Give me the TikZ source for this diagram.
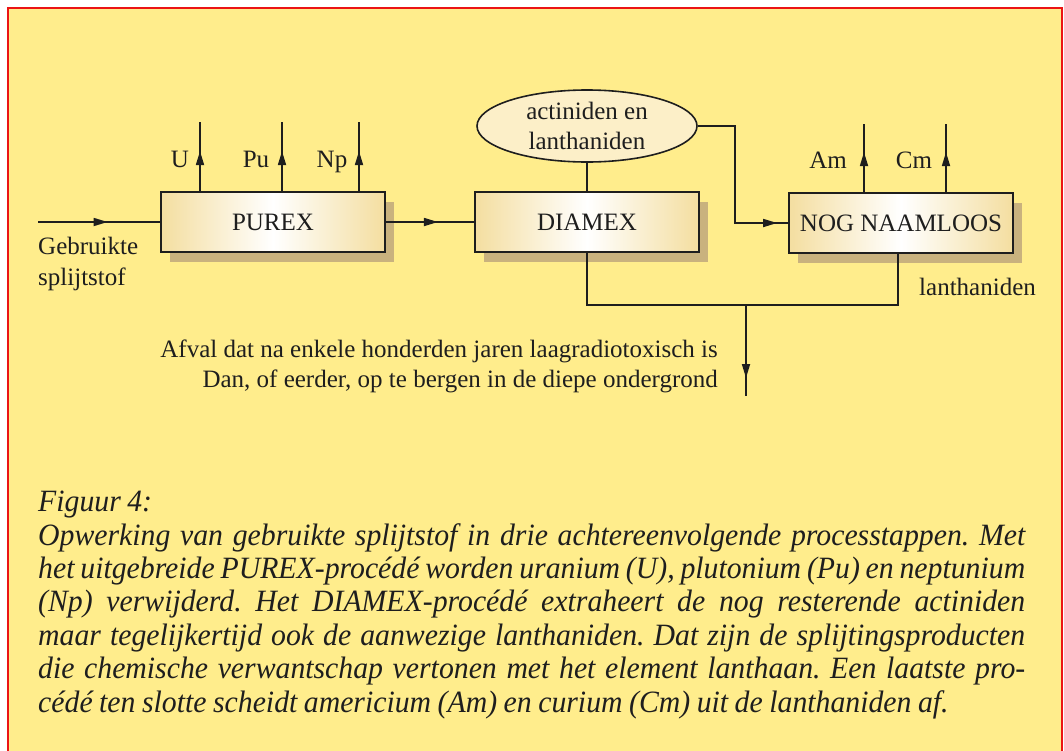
\documentclass[tikz,border=0pt]{standalone}
\usepackage{fontspec}
\setmainfont{Liberation Serif}
\newfontfamily\capfont[FakeStretch=0.96]{Liberation Serif}
\usetikzlibrary{arrows.meta,decorations.markings,shapes.geometric,shadows}
\definecolor{bgyellow}{RGB}{255,237,140}
\definecolor{boxtan}{RGB}{244,222,160}
\definecolor{shadowtan}{RGB}{201,178,126}
\definecolor{ellfill}{RGB}{252,239,200}
\definecolor{framered}{RGB}{235,20,20}
\definecolor{linecol}{RGB}{30,30,30}
\begin{document}
\begin{tikzpicture}[x=1pt,y=-1pt,
  proc/.style={draw=linecol, line width=1.8pt, left color=boxtan, right color=boxtan, middle color=white,
    minimum width=224pt, minimum height=60pt, inner sep=0pt, font=\fontsize{25}{30}\selectfont, text=linecol,
    drop shadow={shadow xshift=9pt, shadow yshift=-10pt, fill=shadowtan, opacity=1}},
  conn/.style={draw=linecol, line width=1.7pt},
  arr/.style={postaction={decorate, decoration={markings, mark=at position #1 with {\arrow{Triangle[length=14pt,width=8pt]}}}}},
  lbl/.style={font=\fontsize{25}{30}\selectfont, text=linecol, inner sep=0pt}
]
\useasboundingbox (0,0) rectangle (1064,750);
\clip (0,0) rectangle (1064,750);
\fill[white] (0,0) rectangle (1064,750);
\draw[framered, line width=2.2pt, fill=bgyellow] (8,8) rectangle (1062,770);

% process boxes
\node[proc] (purex) at (273,222) {PUREX};
\node[proc] (diamex) at (587,222) {DIAMEX};
\node[proc] (nog) at (901,223) {NOG NAAMLOOS};
\node[ellipse, draw=linecol, line width=1.6pt, fill=ellfill, minimum width=220pt, minimum height=72pt,
  inner sep=0pt, align=center, font=\fontsize{25}{30}\selectfont, text=linecol] (ell) at (587,126) {actiniden en\\lanthaniden};

% coordinates
\coordinate (in) at (38,222);
\coordinate (U) at (200,122);
\coordinate (Pu) at (282,122);
\coordinate (Np) at (359,122);
\coordinate (Am) at (864,124);
\coordinate (Cm) at (946,124);
\coordinate (bend) at (735,126);
\coordinate (j) at (746,305);
\coordinate (waste) at (746,396);

% connectors
\draw[conn, arr=0.57] (in) -- (purex.west);
\draw[conn, arr=0.59] (purex.east) -- (diamex.west);
\draw[conn, arr=40pt] (purex.north -| U) -- (U);
\draw[conn, arr=40pt] (purex.north -| Pu) -- (Pu);
\draw[conn, arr=40pt] (purex.north -| Np) -- (Np);
\draw[conn, arr=40pt] (nog.north -| Am) -- (Am);
\draw[conn, arr=40pt] (nog.north -| Cm) -- (Cm);
\draw[conn] (ell.south) -- (diamex.north);
\draw[conn, arr=-11pt] (ell.east) -- (bend) |- (nog.west);
\draw[conn] (diamex.south) |- (j) -| ([xshift=-3pt]nog.south);
\draw[conn, arr=73pt] (j) -- (waste);

% labels
\node[lbl, anchor=base] (lU) at (180,167) {U};
\node[lbl, anchor=base] (lPu) at (256,167) {Pu};
\node[lbl, anchor=base] (lNp) at (332,167) {Np};
\node[lbl, anchor=base] (lAm) at (828,168) {Am};
\node[lbl, anchor=base] (lCm) at (914,168) {Cm};
\node[lbl, anchor=base west] (lLan) at (919,295) {lanthaniden};
\node[lbl, anchor=base west] (lGeb) at (38,254) {Gebruikte};
\node[lbl, anchor=base west] (lSpl) at (38,285) {splijtstof};
\node[lbl, anchor=base east] (afv1) at (718,357) {Afval dat na enkele honderden jaren laagradiotoxisch is};
\node[lbl, anchor=base east] (afv2) at (718,387) {Dan, of eerder, op te bergen in de diepe ondergrond};

% caption
\node[anchor=north west, text width=987pt, align=justify, inner sep=0pt, text=linecol,
  font=\capfont\fontsize{31}{33.4}\selectfont\itshape] (cap) at (38,491)
{\frenchspacing\spaceskip=0.21em plus 0.3em minus 0.09em\tolerance=10000\hyphenpenalty=10000\emergencystretch=20pt
Figuur 4:\\
Opwerking van gebruikte splijtstof in drie achtereenvolgende processtappen. Met\linebreak
het uitgebreide PUREX-procédé worden uranium (U), plutonium (Pu) en neptunium\linebreak
(Np) verwijderd. Het DIAMEX-procédé extraheert de nog resterende actiniden\linebreak
maar tegelijkertijd ook de aanwezige lanthaniden. Dat zijn de splijtingsproducten\linebreak
die chemische verwantschap vertonen met het element lanthaan. Een laatste pro-\linebreak
cédé ten slotte scheidt americium (Am) en curium (Cm) uit de lanthaniden af.};
\end{tikzpicture}
\end{document}
